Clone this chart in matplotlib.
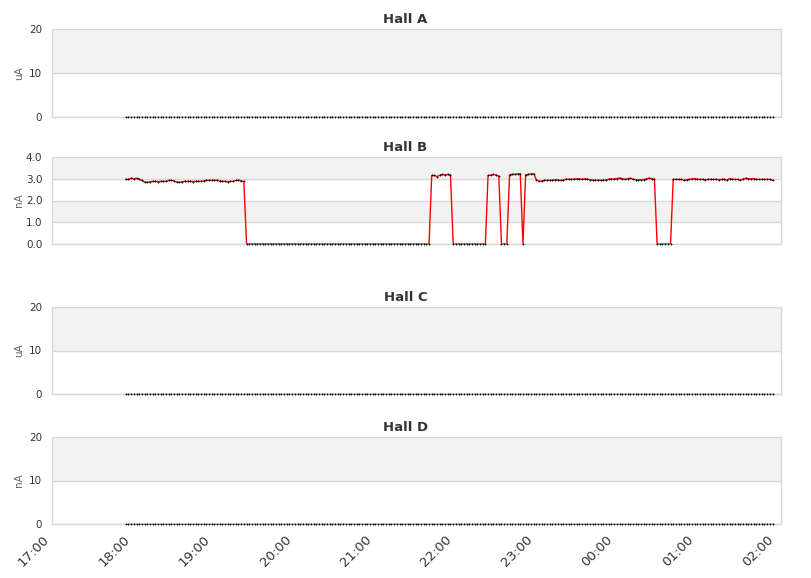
import numpy as np
import pandas as pd
import matplotlib
matplotlib.use("Agg")
import matplotlib.pyplot as plt
import matplotlib.dates as mdates

# sample times: one reading every 2 minutes
times = pd.date_range("2024-01-01 17:55", periods=242, freq="2min")

# Hall B beam current [nA]
hall_b = (
    [2.97, 2.97, 3.02, 3.00, 3.02, 2.98, 2.92, 2.85, 2.83, 2.86,
     2.88, 2.88, 2.87, 2.88, 2.88, 2.88, 2.92, 2.93, 2.90, 2.85,
     2.83, 2.86, 2.88, 2.88, 2.88, 2.87, 2.88, 2.88, 2.88, 2.90,
     2.93, 2.93, 2.92, 2.93, 2.93, 2.90, 2.88, 2.88, 2.87, 2.88,
     2.88, 2.92, 2.94, 2.90, 2.88]
    + [0.0] * 69
    + [3.15, 3.15, 3.10, 3.16, 3.20, 3.17, 3.20, 3.17]
    + [0.0] * 13
    + [3.15, 3.17, 3.20, 3.17, 3.12]
    + [0.0] * 3
    + [3.18, 3.20, 3.20, 3.22, 3.23]
    + [0.0]
    + [3.18, 3.20, 3.22, 3.23, 2.95, 2.88, 2.90, 2.93, 2.92, 2.93,
       2.92, 2.96, 2.95, 2.92, 2.93, 2.98, 2.98, 2.97, 2.98, 3.00,
       2.99, 2.97, 3.00, 2.98, 2.96, 2.94, 2.93, 2.93, 2.93, 2.93,
       2.95, 2.98, 2.99, 2.98, 3.01, 3.03, 3.00, 2.97, 3.00, 3.03,
       2.98, 2.96, 2.95, 2.95, 2.96, 3.00, 3.03, 3.00, 2.98]
    + [0.0] * 6
    + [2.97, 2.97, 2.97, 2.97, 2.93, 2.96, 2.97, 2.99, 3.01, 2.97,
       2.97, 2.97, 2.96, 2.97, 2.97, 2.97, 2.97, 2.96, 2.97, 2.97,
       2.93, 3.01, 2.97, 2.97, 2.97, 2.93, 2.99, 3.02, 3.01, 2.99,
       3.01, 2.97, 2.97, 2.97, 2.97, 2.97, 2.97, 2.93]
)
# Halls A, C, D read zero the whole time
hall_a = [0.0] * len(times)
hall_c = [0.0] * len(times)
hall_d = [0.0] * len(times)

halls = ["Hall A", "Hall B", "Hall C", "Hall D"]
units = ["uA", "nA", "uA", "nA"]
series = [hall_a, hall_b, hall_c, hall_d]
yticks = [[0, 10, 20], [0, 1, 2, 3, 4], [0, 10, 20], [0, 10, 20]]

x_start = pd.Timestamp("2024-01-01 17:00")
x_end = pd.Timestamp("2024-01-02 02:03:20")

grid_col = "#d8d8d8"
band_col = "#f2f2f2"
text_col = "#333333"

fig = plt.figure(figsize=(8.11, 5.78), dpi=100)
W, H = 811, 578
# (top, bottom) pixel rows of each plot area
rows = [(29, 117), (157, 244), (307, 394), (437, 524)]
left, right = 52, 781

for k, (name, unit, vals, ticks) in enumerate(zip(halls, units, series, yticks)):
    top, bot = rows[k]
    ax = fig.add_axes([left / W, 1 - bot / H, (right - left) / W, (bot - top) / H])
    ymax = ticks[-1]
    ax.set_ylim(0, ymax)
    ax.set_xlim(x_start, x_end)

    # alternating bands, shaded from the top down
    for j in range(len(ticks) - 1, 0, -2):
        ax.axhspan(ticks[j - 1], ticks[j], color=band_col, lw=0, zorder=0)
    for t in ticks:
        ax.axhline(t, color=grid_col, lw=1, zorder=1)

    ax.plot(times, vals, color="#ff0000", lw=1, zorder=2)
    ax.plot(times, vals, ls="none", marker="+", ms=2.0, mew=0.6,
            color="black", zorder=4, clip_on=False)

    ax.set_yticks(ticks)
    if k == 1:
        ax.set_yticklabels([f"{t:.1f}" for t in ticks])
    ax.tick_params(axis="y", length=0, pad=7, labelsize=7.5, labelcolor=text_col)
    ax.set_ylabel(unit, fontsize=7.5, color="#666666")
    ax.yaxis.set_label_coords((24 - left) / (right - left), 0.5)
    # titles are centred on the whole chart, not on the plot area
    ax.set_title(name, fontsize=9.5, fontweight="bold", color=text_col, pad=4,
                 x=(W / 2 - left) / (right - left))

    for s in ["left", "right", "bottom"]:
        ax.spines[s].set_color(grid_col)
        ax.spines[s].set_linewidth(1)
        ax.spines[s].set_zorder(3)
    ax.spines["top"].set_visible(False)

    ax.xaxis.set_major_locator(mdates.HourLocator())
    ax.xaxis.set_major_formatter(mdates.DateFormatter("%H:%M"))
    if k == 3:
        ax.tick_params(axis="x", length=0, pad=13, labelsize=9.5, labelcolor=text_col)
        for lab in ax.get_xticklabels():
            lab.set_rotation(45)
            lab.set_ha("right")
            lab.set_rotation_mode("anchor")
            lab.set_va("bottom")
    else:
        ax.tick_params(axis="x", length=0, labelbottom=False)

fig.savefig("out.png", dpi=100)
